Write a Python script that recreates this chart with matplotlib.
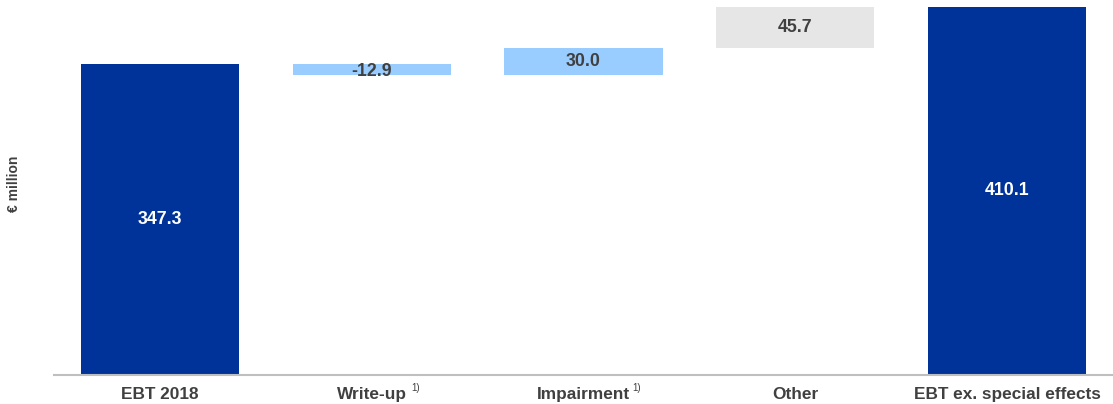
import matplotlib
matplotlib.use("Agg")
import matplotlib.pyplot as plt
from matplotlib.transforms import blended_transform_factory

categories = ["EBT 2018", "Write-up", "Impairment", "Other", "EBT ex. special effects"]
values = [347.3, -12.9, 30.0, 45.7, 410.1]
kinds = ["total", "delta", "delta", "delta", "total"]
superscripts = ["", "1)", "1)", "", ""]
value_labels = ["347.3", "-12.9", "30.0", "45.7", "410.1"]

c_total = "#003399"
c_delta = "#99CCFF"
c_other = "#E6E6E6"
txt_dark = "#404040"

plt.rcParams['font.family'] = ['Liberation Sans', 'DejaVu Sans']

fig = plt.figure(figsize=(11.13, 4.04), dpi=100)
ax = fig.add_axes([54/1113, 29.5/404, 1 - 54/1113, 374.5/404])

bottoms = []
heights = []
running = 0.0
for v, k in zip(values, kinds):
    if k == "total":
        bottoms.append(0.0)
        heights.append(v)
        running = v
    else:
        if v >= 0:
            bottoms.append(running)
            heights.append(v)
        else:
            bottoms.append(running + v)
            heights.append(-v)
        running += v

colors = [c_total, c_delta, c_delta, c_other, c_total]
x = list(range(len(categories)))
ax.bar(x, heights, bottom=bottoms, width=0.746, color=colors, edgecolor='none', zorder=2)

for i, (b, h, lab) in enumerate(zip(bottoms, heights, value_labels)):
    col = "white" if kinds[i] == "total" else txt_dark
    yoff = 0
    if i == 1:
        yoff = -2.0
    ax.text(i, b + h / 2 + yoff, lab, ha='center', va='center', fontsize=12.8,
            fontweight='bold', color=col, zorder=3)

ax.set_xlim(-0.5, 4.5)
ax.set_ylim(0, 418.4)
ax.set_xticks(x)
ax.set_xticklabels(categories, fontsize=12.4, fontweight='bold', color=txt_dark)
ax.tick_params(axis='x', length=0, pad=9)
ax.set_yticks([])
for s in ['top', 'right', 'left']:
    ax.spines[s].set_visible(False)
ax.spines['bottom'].set_color('#BFBFBF')
ax.spines['bottom'].set_linewidth(1.5)

trans = blended_transform_factory(ax.transData, ax.transAxes)
sup_offsets = {1: 40, 2: 49}
for i, s in enumerate(superscripts):
    if s:
        ax.annotate(s, xy=(i, 0), xycoords=trans,
                    xytext=(sup_offsets[i] * 0.72, -6), textcoords='offset points',
                    ha='left', va='top', fontsize=7, color=txt_dark)

fig.text(14/1113, 1 - 184/404, "€ million", rotation=90, ha='center', va='center',
         fontsize=10, fontweight='bold', color=txt_dark)

fig.savefig("out.png", dpi=100)
